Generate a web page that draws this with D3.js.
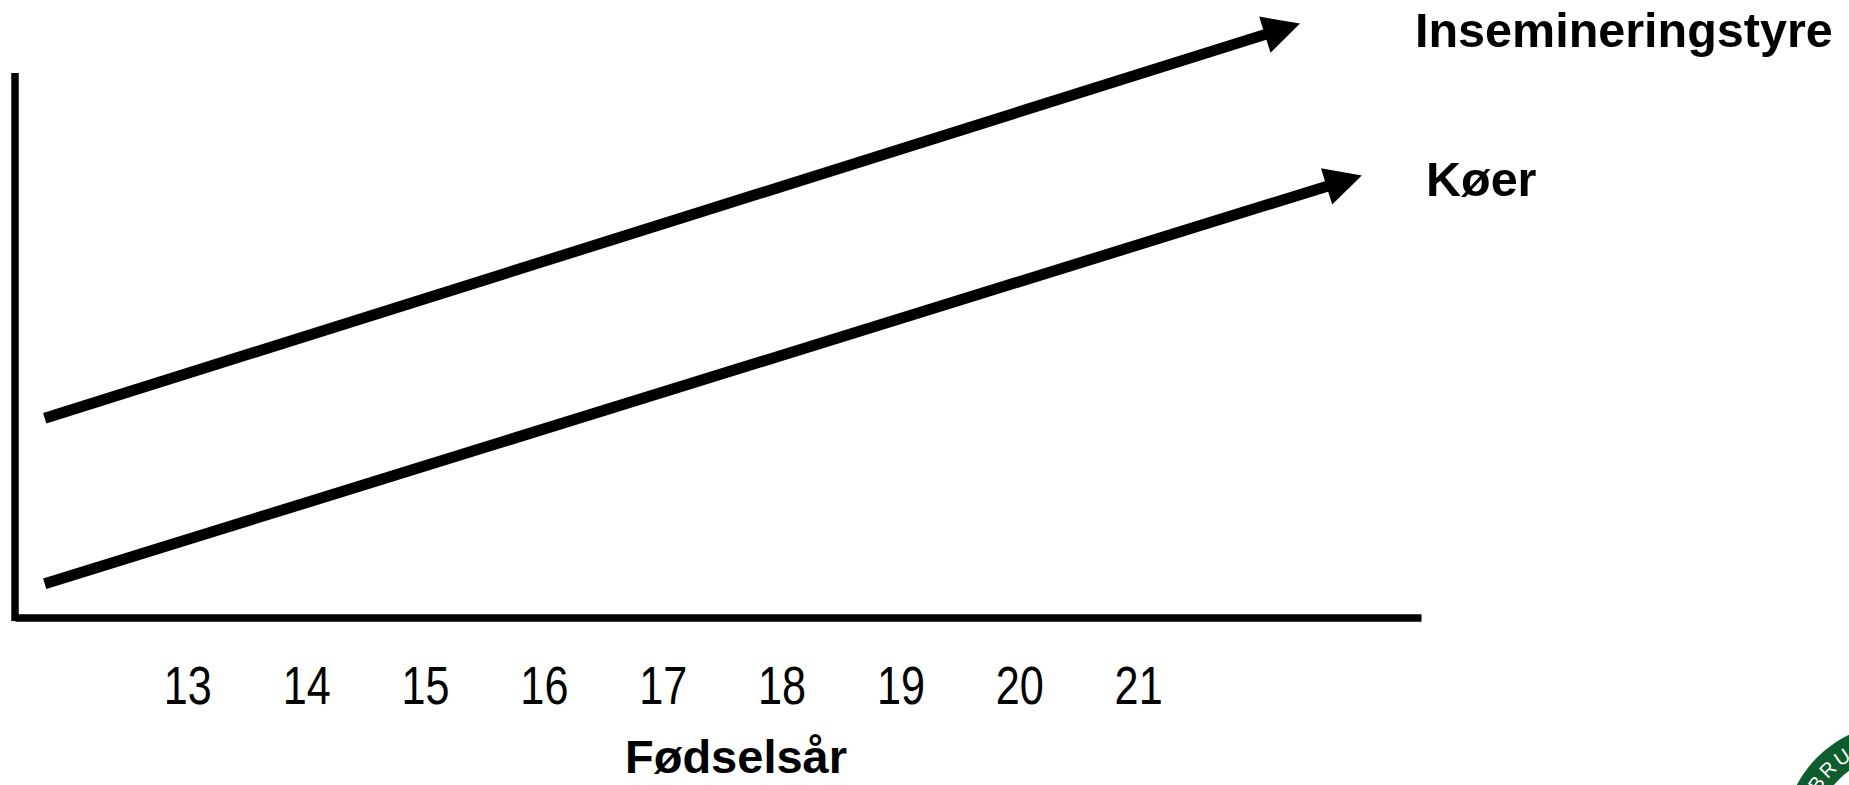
<!DOCTYPE html>
<html>
<head>
<meta charset="utf-8">
<script src="https://cdn.jsdelivr.net/npm/d3@7"></script>
<style>
  html, body { margin: 0; padding: 0; background: #fff; }
  svg { display: block; font-family: "Liberation Sans", Arial, sans-serif; }
</style>
</head>
<body>
<div id="chart"></div>
<script>
// tick labels on the x axis (fødselsår)
const years = [13, 14, 15, 16, 17, 18, 19, 20, 21];

// trend arrows: start/end year and (unitless) genetic level
const seriesNames = ["Insemineringstyre", "Køer"];
const seriesStartYear = [11.8, 11.8];
const seriesEndYear = [22.35, 22.87];
const seriesStartLevel = [36.6, 6.2];
const seriesEndLevel = [109, 81.1];

const xLabel = "Fødselsår";

const buildChart = (parent) => {
    var width = 1849, height = 785;

    var svg = d3.select(parent).append("svg")
        .attr("width", width)
        .attr("height", height);

    // scales
    const x = d3.scaleLinear()
        .domain([11.55, 23.38])
        .range([15, 1421]);
    const y = d3.scaleLinear()
        .domain([0, 100])
        .range([617.5, 73]);

    // arrow head
    svg.append("defs").append("marker")
        .attr("id", "head")
        .attr("markerUnits", "userSpaceOnUse")
        .attr("markerWidth", 40)
        .attr("markerHeight", 40)
        .attr("viewBox", "-36 -19 37 38")
        .attr("refX", -28)
        .attr("refY", 0)
        .attr("orient", "auto")
        .append("path")
        .attr("d", "M0,0L-35,-18L-35,18Z")
        .attr("fill", "#000");

    // x axis
    const xAxis = svg.append("g")
        .attr("transform", "translate(0," + y(0) + ")")
        .call(d3.axisBottom(x).tickValues(years).tickSize(0).tickSizeOuter(0));
    xAxis.select(".domain")
        .attr("stroke", "#000")
        .attr("stroke-width", 7.5);
    // labels in the reference are a bit narrow and tall
    xAxis.selectAll("text")
        .attr("y", 0)
        .attr("dy", null)
        .attr("transform", "translate(0,86.5) scale(0.9,1.1)")
        .attr("fill", "#000")
        .style("font-size", "48px")
        .style("font-family", "'Liberation Sans', Arial, sans-serif");

    // y axis (no ticks)
    const yAxis = svg.append("g")
        .attr("transform", "translate(" + x.range()[0] + ",0)")
        .call(d3.axisLeft(y).tickValues([]).tickSizeOuter(0));
    yAxis.select(".domain")
        .attr("stroke", "#000")
        .attr("stroke-width", 7.5)
        .attr("d", "M0," + (y(0) + 3.5) + "V" + y(100));

    // arrows
    const arrows = seriesNames.map((name, i) => ({
        name,
        x0: x(seriesStartYear[i]), y0: y(seriesStartLevel[i]),
        x1: x(seriesEndYear[i]), y1: y(seriesEndLevel[i])
    }));

    const shorten = 28; // stop the shaft inside the head
    svg.append("g")
        .selectAll("line")
        .data(arrows)
        .enter().append("line")
        .attr("x1", d => d.x0)
        .attr("y1", d => d.y0)
        .attr("x2", d => d.x1 - (d.x1 - d.x0) / Math.hypot(d.x1 - d.x0, d.y1 - d.y0) * shorten)
        .attr("y2", d => d.y1 - (d.y1 - d.y0) / Math.hypot(d.x1 - d.x0, d.y1 - d.y0) * shorten)
        .attr("stroke", "#000")
        .attr("stroke-width", 11)
        .attr("marker-end", "url(#head)");

    // series labels
    svg.append("g")
        .selectAll("text")
        .data(arrows)
        .enter().append("text")
        .attr("x", (d, i) => i === 0 ? 1415 : 1426)
        .attr("y", (d, i) => i === 0 ? 47 : 196)
        .attr("font-weight", "bold")
        .attr("font-size", 48.5)
        .attr("fill", "#000")
        .text(d => d.name);

    // axis title
    svg.append("text")
        .attr("x", 736)
        .attr("y", 773)
        .attr("text-anchor", "middle")
        .attr("font-weight", "bold")
        .attr("font-size", 47)
        .attr("fill", "#000")
        .text(xLabel);

    // partial logo in the corner
    const logo = svg.append("g").attr("transform", "translate(1900,840)");
    logo.append("circle").attr("r", 117).attr("fill", "#0f5c2e");
    logo.append("circle").attr("r", 86).attr("fill", "#fff");
    logo.append("path")
        .attr("id", "logoArc")
        .attr("fill", "none")
        .attr("d", d3.arc()({ innerRadius: 94, outerRadius: 94, startAngle: -100 * Math.PI / 180, endAngle: 0 }));
    logo.append("text")
        .attr("fill", "#fff")
        .attr("font-size", 20)
        .attr("letter-spacing", 3)
        .append("textPath")
        .attr("href", "#logoArc")
        .text("LANDBRUG");
};

buildChart("#chart");
</script>
</body>
</html>
